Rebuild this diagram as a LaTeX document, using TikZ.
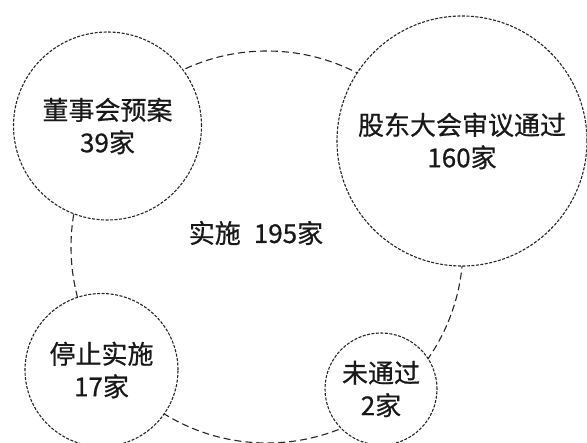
\documentclass[tikz,border=0pt]{standalone}
\usepackage{fontspec}
\setmainfont{Noto Sans CJK SC}
\newfontfamily\labelfont{Noto Sans CJK SC}[FakeBold=0.6]
\begin{document}
\begin{tikzpicture}[x=1pt,y=-1pt,
  ringline/.style={circle, draw=black!85, line width=1.1pt, dash pattern=on 7pt off 4pt, inner sep=0pt},
  stage/.style={circle, draw=black!85, fill=white, line width=1.1pt, dash pattern=on 3pt off 1.5pt, inner sep=0pt, align=center, text=black!90, font=\labelfont\fontsize{26}{32.5}\selectfont},
  lbl/.style={text=black!90, font=\labelfont\fontsize{26}{32.5}\selectfont}]
\useasboundingbox (0,0) rectangle (587,443);
\clip (0,0) rectangle (587,443);
\fill[white] (0,0) rectangle (587,443);
\node[ringline, minimum size=392pt] (ring) at (267,247) {};
\node[stage, minimum size=188pt] (board) at (107.5,126) {董事会预案\\39家};
\node[stage, minimum size=250pt] (meeting) at (462,141) {股东大会审议通过\\160家};
\node[stage, minimum size=153pt] (stop) at (101.5,370) {停止实施\\17家};
\node[stage, minimum size=112pt] (fail) at (381,389) {未通过\\2家};
\node[lbl] (impl) at (256,233) {实施\hspace{0.5em}195家};
\end{tikzpicture}
\end{document}
